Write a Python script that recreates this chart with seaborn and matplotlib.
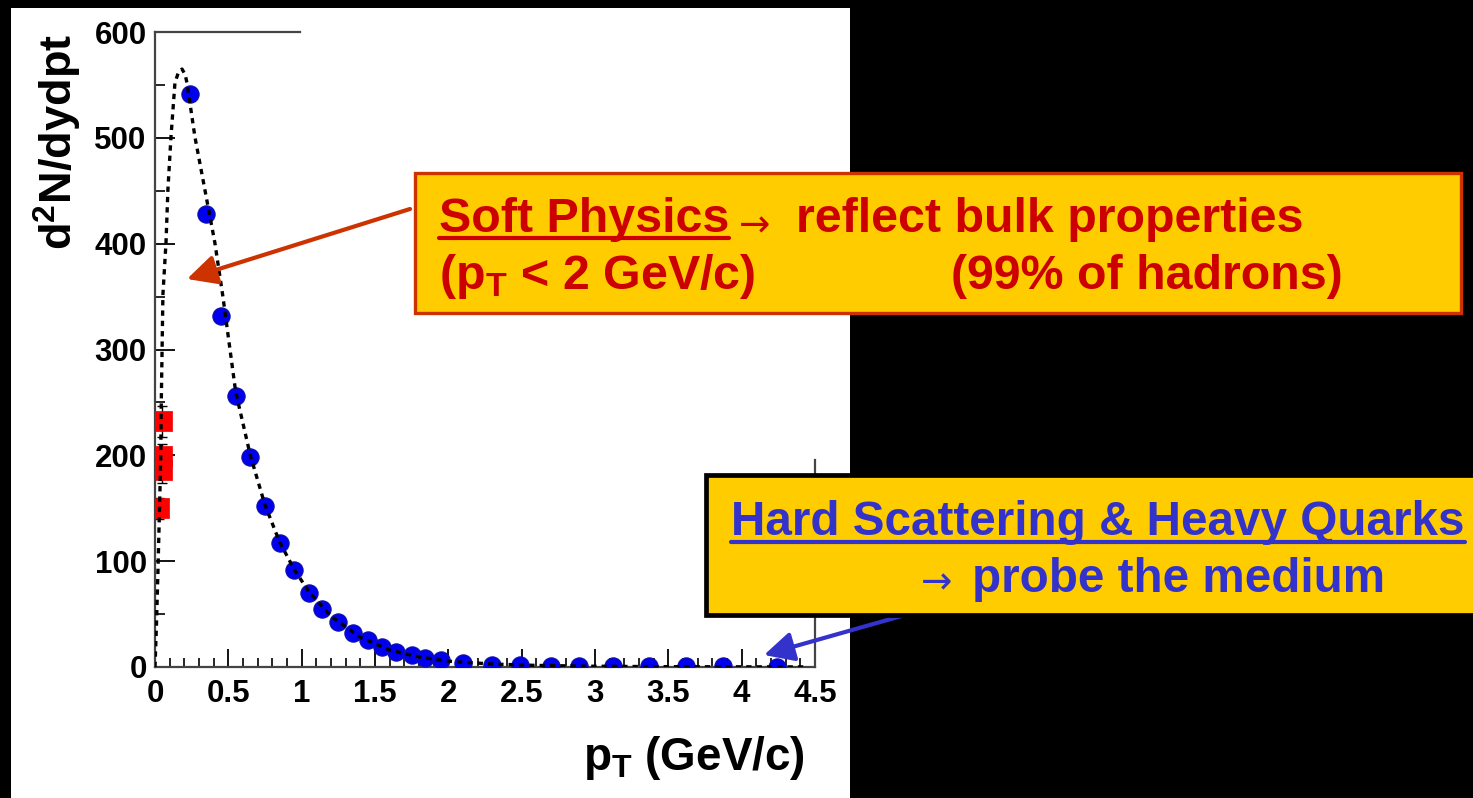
import matplotlib
matplotlib.use('Agg')
import matplotlib.pyplot as plt
import seaborn as sns
import pandas as pd
from matplotlib.patches import Rectangle, FancyArrowPatch
from matplotlib.lines import Line2D
from matplotlib.ticker import MultipleLocator, FixedLocator

# ---------------- data ----------------
pt_pion = [0.238, 0.347, 0.449, 0.551, 0.647, 0.749, 0.851, 0.946, 1.048, 1.14,
           1.25, 1.35, 1.45, 1.55, 1.64, 1.75, 1.84, 1.95, 2.10, 2.30,
           2.49, 2.70, 2.89, 3.12, 3.37, 3.62, 3.87, 4.24]
yield_pion = [541, 428, 332, 256, 198, 152, 117, 92, 70, 55,
              42.5, 32, 25.5, 19, 14.5, 11, 8.5, 6.5, 4.2, 2.2,
              1.6, 1.3, 1.0, 0.8, 0.7, 0.6, 0.5, 0.3]

pt_low = [0.048, 0.048, 0.048, 0.030]
yield_low = [232, 199, 186, 150]
err_low = [15, 12, 12, 10]

pt_fit = [0.0, 0.010, 0.020, 0.030, 0.039, 0.043, 0.054, 0.075, 0.088, 0.109,
          0.136, 0.160, 0.184, 0.205, 0.218, 0.272, 0.340, 0.408, 0.463, 0.55,
          0.65, 0.75, 0.85, 0.95, 1.05, 1.20, 1.40, 1.60, 1.80, 2.00,
          2.30, 2.60, 3.00, 3.50, 4.00, 4.45]
yield_fit = [0, 40, 90, 145, 198, 252, 352, 401, 451, 501,
             552, 562, 565, 560, 552, 501, 451, 401, 350, 260,
             200, 153, 118, 92, 71, 48, 28, 16, 9.5, 5.5,
             2.8, 1.5, 0.7, 0.3, 0.15, 0.07]

x_ticks = [0, 0.5, 1, 1.5, 2, 2.5, 3, 3.5, 4, 4.5]
x_tick_labels = ['0', '0.5', '1', '1.5', '2', '2.5', '3', '3.5', '4', '4.5']
y_ticks = [0, 100, 200, 300, 400, 500, 600]
y_tick_labels = ['0', '100', '200', '300', '400', '500', '600']

x_title = r'$p_{T}$ (GeV/c)'
y_title = r'd$^{2}$N/dydpt'

soft_head = 'Soft Physics'
soft_arrow = '\u2192'
soft_rest = 'reflect bulk properties'
soft_line2a = r'(p$_{T}$ < 2 GeV/c)'
soft_line2b = '(99% of hadrons)'
hard_head = 'Hard Scattering & Heavy Quarks'
hard_arrow = '\u2192'
hard_rest = 'probe the medium'

# ---------------- style ----------------
W, H = 1473, 798
sns.set_theme(style='white')
plt.rcParams['font.family'] = ['Liberation Sans', 'DejaVu Sans']
plt.rcParams['font.weight'] = 'bold'
plt.rcParams['mathtext.fontset'] = 'custom'
plt.rcParams['mathtext.rm'] = 'Liberation Sans:bold'
plt.rcParams['mathtext.it'] = 'Liberation Sans:bold'
plt.rcParams['mathtext.bf'] = 'Liberation Sans:bold'
plt.rcParams['mathtext.sf'] = 'Liberation Sans:bold'

fig = plt.figure(figsize=(W / 100, H / 100), dpi=100, facecolor='black')


def fx(px):
    return px / W


def fy(py):
    return 1 - py / H


# white canvas of the original plot
fig.add_artist(Rectangle((fx(11), 0), fx(850) - fx(11), fy(8), transform=fig.transFigure,
                         facecolor='white', edgecolor='none', zorder=-5))

ax = fig.add_axes([fx(155), fy(667), fx(815) - fx(155), fy(32) - fy(667)])
ax.set_facecolor('none')

fit_df = pd.DataFrame({'pt': pt_fit, 'yield': yield_fit})
pion_df = pd.DataFrame({'pt': pt_pion, 'yield': yield_pion})
low_df = pd.DataFrame({'pt': pt_low, 'yield': yield_low, 'err': err_low})

ax.errorbar(low_df['pt'], low_df['yield'], yerr=low_df['err'], fmt='none',
            ecolor='black', elinewidth=1.0, capsize=3.5, capthick=1.0, zorder=2)
sns.scatterplot(data=pion_df, x='pt', y='yield', ax=ax, s=155, marker='o',
                color='#0000ee', edgecolor='#1010a8', linewidth=0.8, zorder=3)
sns.scatterplot(data=low_df, x='pt', y='yield', ax=ax, s=190, marker='s',
                color='#ff0000', edgecolor='#ee0000', linewidth=0.5, zorder=3)
sns.lineplot(data=fit_df, x='pt', y='yield', ax=ax, color='black', lw=2.4,
             linestyle=(0, (1.6, 1.5)), estimator=None, sort=False, zorder=4)

ax.set_xlim(0, 4.5)
ax.set_ylim(0, 600)
ax.xaxis.set_major_locator(FixedLocator(x_ticks))
ax.set_xticklabels(x_tick_labels)
ax.yaxis.set_major_locator(FixedLocator(y_ticks))
ax.set_yticklabels(y_tick_labels)
ax.xaxis.set_minor_locator(MultipleLocator(0.1))
ax.yaxis.set_minor_locator(MultipleLocator(50))

ax.tick_params(axis='both', which='both', direction='in', colors='black',
               labelsize=22.5, top=False, right=False, bottom=True, left=True)
ax.tick_params(axis='x', which='major', length=13, width=1.3, pad=9)
ax.tick_params(axis='x', which='minor', length=6.5, width=1.2)
ax.tick_params(axis='y', which='major', length=14.5, width=1.3, pad=6)
ax.tick_params(axis='y', which='minor', length=7, width=1.2)
for lab in ax.get_xticklabels() + ax.get_yticklabels():
    lab.set_fontweight('bold')

for side in ['left', 'bottom', 'top', 'right']:
    ax.spines[side].set_visible(True)
    ax.spines[side].set_color('#444444')
    ax.spines[side].set_linewidth(1.6)
ax.spines['top'].set_bounds(0, 0.99)
ax.spines['right'].set_bounds(0, 196)

ax.set_xlabel(x_title, fontsize=33, fontweight='bold', loc='right', color='black')
ax.xaxis.set_label_coords(0.985, -0.105)
ax.set_ylabel(y_title, fontsize=32.5, fontweight='bold', loc='top', color='black')
ax.yaxis.set_label_coords(-0.107, 0.997)

# ---------------- annotation boxes ----------------
gold = '#ffcc00'
red_txt = '#cc0000'
red_edge = '#cc3300'
blue_txt = '#3333cc'

fig.add_artist(Rectangle((fx(415), fy(313)), fx(1461) - fx(415), fy(173) - fy(313),
                         transform=fig.transFigure, facecolor=gold, edgecolor=red_edge,
                         linewidth=2.4, zorder=5))
fig.add_artist(Rectangle((fx(706), fy(615)), fx(1480) - fx(706), fy(475) - fy(615),
                         transform=fig.transFigure, facecolor=gold, edgecolor='black',
                         linewidth=3.4, zorder=5))

tfs_r = 34.8
tfs_b = 34.3
t1 = fig.text(fx(439), fy(232), soft_head, fontsize=tfs_r, color=red_txt, fontweight='bold',
              va='baseline', ha='left', zorder=6)
fig.text(fx(739), fy(226), soft_arrow, fontsize=27, color=red_txt, fontweight='normal',
         family=['DejaVu Sans'], va='center', ha='left', zorder=6)
fig.text(fx(796), fy(232), soft_rest, fontsize=tfs_r, color=red_txt, fontweight='bold',
         va='baseline', ha='left', zorder=6)
fig.text(fx(439), fy(289), soft_line2a, fontsize=tfs_r, color=red_txt, fontweight='bold',
         va='baseline', ha='left', zorder=6)
fig.text(fx(951), fy(289), soft_line2b, fontsize=tfs_r, color=red_txt, fontweight='bold',
         va='baseline', ha='left', zorder=6)

t2 = fig.text(fx(731), fy(535), hard_head, fontsize=tfs_b, color=blue_txt, fontweight='bold',
              va='baseline', ha='left', zorder=6)
fig.text(fx(921), fy(583), hard_arrow, fontsize=27, color=blue_txt, fontweight='normal',
         family=['DejaVu Sans'], va='center', ha='left', zorder=6)
fig.text(fx(972), fy(592), hard_rest, fontsize=tfs_b, color=blue_txt, fontweight='bold',
         va='baseline', ha='left', zorder=6)

# underlines derived from the rendered text extents
fig.canvas.draw()
for t, yb, col in [(t1, 238, red_txt), (t2, 542, blue_txt)]:
    bb = t.get_window_extent()
    fig.add_artist(Line2D([bb.x0 / W, bb.x1 / W], [fy(yb), fy(yb)], transform=fig.transFigure,
                          color=col, linewidth=3.0, zorder=6))

# arrows
fig.add_artist(FancyArrowPatch(
    (fx(410), fy(209)), (fx(187), fy(279)), transform=fig.transFigure,
    arrowstyle='-|>,head_length=12,head_width=6', mutation_scale=1.5,
    color=red_edge, linewidth=3.0, zorder=4, shrinkA=0, shrinkB=0))
fig.add_artist(FancyArrowPatch(
    (fx(905), fy(615)), (fx(764), fy(655)), transform=fig.transFigure,
    arrowstyle='-|>,head_length=12,head_width=6', mutation_scale=1.5,
    color=blue_txt, linewidth=3.0, zorder=4, shrinkA=0, shrinkB=0))

fig.savefig('out.png', dpi=100, facecolor='black')
